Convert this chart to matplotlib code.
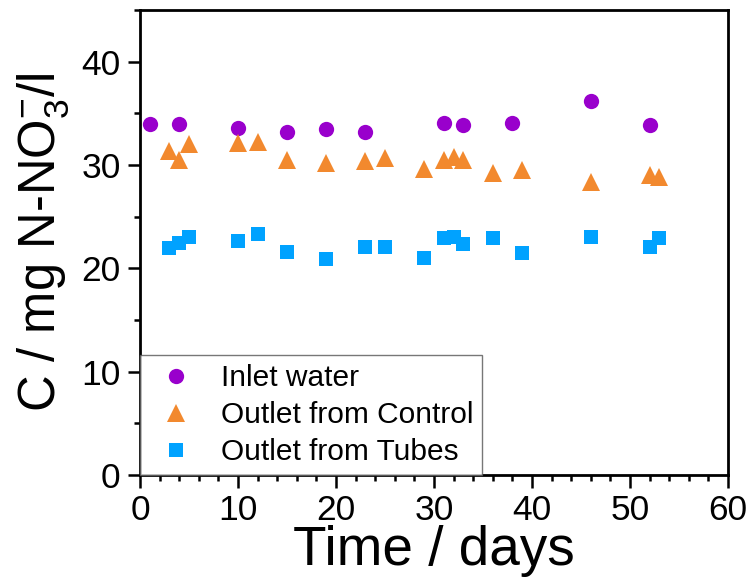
import matplotlib
matplotlib.use("Agg")
import matplotlib.pyplot as plt
from matplotlib.ticker import MultipleLocator

plt.rcParams['font.family'] = ['Liberation Sans', 'DejaVu Sans']
plt.rcParams['mathtext.fontset'] = 'custom'
plt.rcParams['mathtext.rm'] = 'Liberation Sans'
plt.rcParams['mathtext.it'] = 'Liberation Sans:italic'
plt.rcParams['mathtext.bf'] = 'Liberation Sans:bold'

inlet_days = [1, 4, 10, 15, 19, 23, 31, 33, 38, 46, 52]
inlet_conc = [34.0, 34.0, 33.6, 33.2, 33.5, 33.2, 34.1, 33.9, 34.1, 36.2, 33.9]

control_days = [3, 4, 5, 10, 12, 15, 19, 23, 25, 29, 31, 32, 33, 36, 39, 46, 52, 53]
control_conc = [31.4, 30.5, 32.0, 32.1, 32.2, 30.5, 30.2, 30.4, 30.7, 29.6, 30.5,
                30.8, 30.5, 29.2, 29.5, 28.4, 29.0, 28.8]

tubes_days = [3, 4, 5, 10, 12, 15, 19, 23, 25, 29, 31, 32, 33, 36, 39, 46, 52, 53]
tubes_conc = [22.0, 22.5, 23.0, 22.6, 23.3, 21.6, 20.9, 22.1, 22.1, 21.0, 22.9,
              23.0, 22.4, 22.9, 21.5, 23.0, 22.1, 22.9]

labels = ['Inlet water', 'Outlet from Control', 'Outlet from Tubes']

fig = plt.figure(figsize=(7.53, 5.81), dpi=100)
ax = fig.add_axes([140/753, 1 - 475/581, (728-140)/753, (475-10)/581])

ax.plot(inlet_days, inlet_conc, linestyle='none', marker='o', markersize=11,
        color='#9900CC', markeredgewidth=0, label=labels[0])
ax.plot(control_days, control_conc, linestyle='none', marker='^', markersize=13,
        color='#F2892E', markeredgewidth=0, label=labels[1])
ax.plot(tubes_days, tubes_conc, linestyle='none', marker='s', markersize=10,
        color='#00A2FF', markeredgewidth=0, label=labels[2])

ax.set_xlim(0, 60)
ax.set_ylim(0, 45)
ax.xaxis.set_major_locator(MultipleLocator(10))
ax.xaxis.set_minor_locator(MultipleLocator(2))
ax.yaxis.set_major_locator(MultipleLocator(10))
ax.yaxis.set_minor_locator(MultipleLocator(5))

for s in ax.spines.values():
    s.set_linewidth(2.0)

ax.tick_params(which='both', direction='out', top=False, right=False, width=1.8)
ax.tick_params(which='major', length=9, labelsize=25.5, pad=5)
ax.tick_params(which='minor', length=4.5)

ax.set_xlabel('Time / days', fontsize=39.5, labelpad=-2)
ax.set_ylabel(r'C / mg N-NO$_3^{-}$/l', fontsize=36.5, labelpad=7)

leg = ax.legend(loc='lower left', fontsize=21.5, frameon=True, fancybox=False,
                borderaxespad=0, handletextpad=0.6, labelspacing=0.3,
                borderpad=0.3, handlelength=1.8)
leg.get_frame().set_edgecolor('#555555')
leg.get_frame().set_linewidth(1.0)

fig.savefig('out.png', dpi=100)
